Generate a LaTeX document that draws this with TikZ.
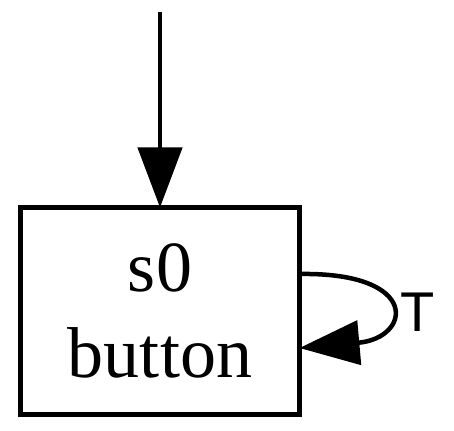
\documentclass[tikz,border=0pt]{standalone}
\usepackage{fontspec}
\setmainfont{Liberation Serif}
\newfontfamily\labelfont{Liberation Sans}
\usetikzlibrary{arrows.meta}
\tikzset{
  state/.style = {draw, rectangle, line width = 5pt, outer sep = 0pt, minimum width = 279pt, minimum height = 207pt, align = center, font = \fontsize{72}{86}\selectfont},
  edge/.style = {line width = 4.5pt, -{Triangle[length = 60pt, width = 44pt]}}
}
\begin{document}
\begin{tikzpicture}[x = 1pt, y = -1pt]
\useasboundingbox (0,0) rectangle (454,430);
\node [state] (s0) at (160,311) {s0\\button};
\coordinate (start) at (160,12);
\draw [edge] (start) -- (s0.north);
\draw [edge] ([yshift = 37pt]s0.east) .. controls +(122,-2) and +(112,-10) .. ([yshift = -37pt]s0.east);
\node [font = \labelfont\fontsize{56}{60}\selectfont] (T) at (418,312) {T};
\end{tikzpicture}
\end{document}
